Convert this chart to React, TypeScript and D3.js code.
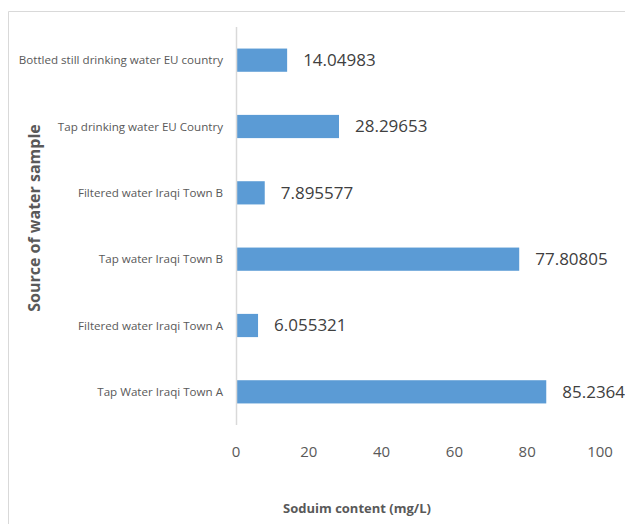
import React, { useRef, useEffect } from 'react';
import * as d3 from 'd3';

// data, bottom to top as drawn
const categories: string[] = [
  'Tap Water Iraqi Town A',
  'Filtered water Iraqi Town A',
  'Tap water Iraqi Town B',
  'Filtered water Iraqi Town B',
  'Tap drinking water EU Country',
  'Bottled still drinking water EU country',
];
const sodium: number[] = [85.2364, 6.055321, 77.80805, 7.895577, 28.29653, 14.04983];
const valueLabels: string[] = ['85.2364', '6.055321', '77.80805', '7.895577', '28.29653', '14.04983'];
const xTicks: number[] = [0, 20, 40, 60, 80, 100];

const App = () => {
  const svgRef = useRef<SVGSVGElement>(null);

  useEffect(() => {
    if (!svgRef.current) return;
    const svg = d3.select(svgRef.current);
    svg.selectAll('*').remove();

    const width = 625;
    const height = 524;
    const font = '"Open Sans", sans-serif';
    const gray = '#595959';

    // chart border (only top and left visible in frame)
    svg.append('path')
      .attr('d', `M8.5,${height} V11.5 H${width}`)
      .attr('fill', 'none')
      .attr('stroke', '#D9D9D9')
      .attr('stroke-width', 1);

    const x = d3.scaleLinear().domain([0, 100]).range([236, 600]);
    const y = d3.scaleBand<string>()
      .domain(categories.slice().reverse())
      .range([27, 425])
      .paddingInner(0.65)
      .paddingOuter(0.325);

    const data = categories.map((c, i) => ({ name: c, value: sodium[i], label: valueLabels[i] }));

    // bars
    svg.append('g').selectAll('rect')
      .data(data)
      .enter()
      .append('rect')
      .attr('x', x(0))
      .attr('y', d => y(d.name)!)
      .attr('width', d => x(d.value) - x(0))
      .attr('height', y.bandwidth())
      .attr('fill', '#5B9BD5');

    // vertical axis line
    svg.append('line')
      .attr('x1', x(0) + 0.5)
      .attr('x2', x(0) + 0.5)
      .attr('y1', 27)
      .attr('y2', 425)
      .attr('stroke', '#D9D9D9')
      .attr('stroke-width', 1.5);

    // category labels
    svg.append('g').selectAll('text')
      .data(data)
      .enter()
      .append('text')
      .attr('x', 223)
      .attr('y', d => y(d.name)! + y.bandwidth() / 2)
      .attr('dy', '0.35em')
      .attr('text-anchor', 'end')
      .style('font-family', font)
      .style('font-size', '11.6px')
      .style('fill', gray)
      .text(d => d.name);

    // value labels
    svg.append('g').selectAll('text')
      .data(data)
      .enter()
      .append('text')
      .attr('x', d => x(d.value) + 16)
      .attr('y', d => y(d.name)! + y.bandwidth() / 2)
      .attr('dy', '0.35em')
      .style('font-family', font)
      .style('font-size', '17px')
      .style('fill', '#404040')
      .text(d => d.label);

    // x tick labels
    svg.append('g').selectAll('text')
      .data(xTicks)
      .enter()
      .append('text')
      .attr('x', d => x(d))
      .attr('y', 457)
      .attr('text-anchor', 'middle')
      .style('font-family', font)
      .style('font-size', '15px')
      .style('fill', gray)
      .text(d => d);

    // axis titles
    svg.append('text')
      .attr('x', 357)
      .attr('y', 513)
      .attr('text-anchor', 'middle')
      .style('font-family', font)
      .style('font-size', '13px')
      .style('font-weight', 'bold')
      .style('fill', gray)
      .text('Soduim content (mg/L)');

    svg.append('text')
      .attr('transform', 'translate(40, 218) rotate(-90)')
      .attr('text-anchor', 'middle')
      .style('font-family', font)
      .style('font-size', '16px')
      .style('font-weight', 'bold')
      .style('fill', gray)
      .text('Source of water sample');
  }, []);

  return (
    <svg
      ref={svgRef}
      width={625}
      height={524}
      style={{ position: 'absolute', left: 0, top: 0, background: '#fff' }}
    ></svg>
  );
};

export default App;
